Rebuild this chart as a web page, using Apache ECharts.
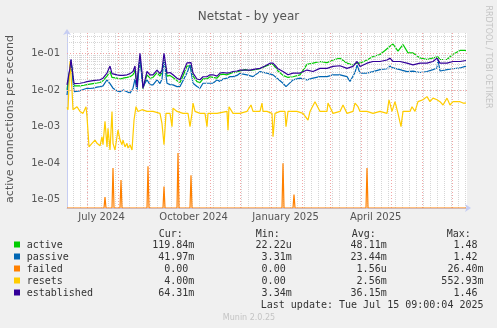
<!DOCTYPE html>
<html><head><meta charset="utf-8">
<script src="https://cdn.jsdelivr.net/npm/echarts@6/dist/echarts.min.js"></script>
<style>html,body{margin:0;padding:0;background:#f0f0f0;}#c{width:497px;height:328px;}</style>
</head><body><div id="c"></div>
<script>
// ---- time frame (x values are days since START) ----
const START = Date.UTC(2024, 5, 10, 9);   // 400 days before last update
const SPAN_DAYS = 400;
const xLabelDates = [[2024,6,15],[2024,9,15],[2025,0,15],[2025,3,15]];
const xLabelText = ['July 2024','October 2024','January 2025','April 2025'];
const monthStarts = [[2024,6,1],[2024,7,1],[2024,8,1],[2024,9,1],[2024,10,1],[2024,11,1],[2025,0,1],[2025,1,1],[2025,2,1],[2025,3,1],[2025,4,1],[2025,5,1],[2025,6,1]];
const firstWeek = [2024,5,17];
const yTickValues = [1e-5,1e-4,1e-3,1e-2,1e-1];
const yTickLabels = ['1e-05','1e-04','1e-03','1e-02','1e-01'];
const Y_MIN = 6e-6, Y_MAX = 0.36;

// ---- series data: [day, value] ----
const active = [[0,0.0101],[2,0.011],[3,0.04],[4,0.06],[6,0.06],[7,0.013],[9,0.0124],[13,0.013],[17,0.0135],[20,0.014],[23,0.0145],[26,0.015],[30,0.0155],[33,0.016],[36,0.018],[40,0.024],[43,0.032],[45,0.022],[50,0.021],[53,0.02],[56,0.021],[60,0.022],[63,0.023],[66,0.026],[68,0.035],[70,0.011],[71,0.025],[73,0.07],[75,0.025],[76,0.011],[80,0.026],[83,0.021],[86,0.022],[90,0.03],[93,0.024],[95,0.03],[97,0.07],[100,0.024],[103,0.025],[106,0.022],[110,0.018],[113,0.016],[116,0.024],[120,0.045],[124,0.046],[126,0.024],[130,0.017],[133,0.016],[136,0.02],[140,0.02],[143,0.023],[146,0.022],[150,0.021],[153,0.026],[156,0.027],[160,0.026],[163,0.028],[166,0.03],[170,0.031],[173,0.033],[178,0.036],[183,0.034],[188,0.036],[193,0.038],[198,0.044],[203,0.05],[206,0.05],[211,0.033],[216,0.025],[221,0.022],[226,0.023],[233,0.026],[240,0.05],[246,0.054],[253,0.06],[260,0.056],[266,0.066],[273,0.074],[280,0.054],[286,0.048],[290,0.055],[293,0.054],[300,0.066],[306,0.082],[313,0.093],[318,0.12],[323,0.157],[326,0.18],[331,0.115],[336,0.174],[341,0.103],[346,0.103],[353,0.075],[360,0.068],[366,0.075],[371,0.08],[373,0.068],[380,0.068],[386,0.095],[393,0.12],[399,0.12]];
const passive = [[0,0.0073],[2,0.008],[3,0.04],[4,0.066],[6,0.066],[7,0.009],[9,0.009],[13,0.0095],[17,0.0105],[20,0.0112],[23,0.011],[26,0.0112],[30,0.012],[33,0.0124],[36,0.013],[40,0.019],[43,0.015],[46,0.0112],[50,0.0095],[53,0.009],[56,0.0101],[60,0.009],[63,0.0082],[66,0.0112],[68,0.02],[70,0.009],[71,0.02],[73,0.082],[75,0.02],[76,0.0124],[80,0.019],[83,0.0138],[86,0.0138],[90,0.0189],[93,0.015],[95,0.02],[97,0.066],[100,0.0153],[103,0.014],[106,0.0138],[110,0.0124],[113,0.0124],[116,0.018],[120,0.029],[123,0.048],[126,0.0153],[130,0.0124],[133,0.0112],[136,0.0153],[140,0.0153],[143,0.0153],[146,0.0153],[150,0.0189],[153,0.017],[156,0.02],[160,0.021],[163,0.0232],[166,0.0232],[170,0.025],[173,0.0288],[176,0.027],[180,0.0259],[186,0.0232],[193,0.0318],[200,0.0288],[206,0.0259],[211,0.02],[216,0.0153],[219,0.0124],[221,0.013],[226,0.0189],[233,0.021],[240,0.0189],[246,0.021],[253,0.0232],[260,0.0232],[266,0.0259],[273,0.0259],[280,0.0232],[283,0.017],[288,0.03],[290,0.048],[293,0.0288],[300,0.0288],[306,0.0318],[313,0.036],[320,0.038],[323,0.045],[326,0.04],[333,0.036],[340,0.0318],[346,0.0326],[353,0.03],[360,0.032],[366,0.036],[370,0.04],[371,0.068],[373,0.033],[380,0.036],[386,0.038],[393,0.04],[399,0.045]];
const failed = [[0,0],[37,0],[38,1.2e-5],[39,0],[45,0],[46,7.4e-5],[47,0],[53,0],[54,3.5e-5],[55,0],[80,0],[81,8.3e-5],[82,0],[96,0],[97,2.3e-5],[98,0],[110,0],[111,1.9e-4],[112,0],[123,0],[124,4.7e-5],[125,0],[215,0],[216,1e-4],[217,0],[226,0],[227,1.4e-5],[228,0],[299,0],[300,7.4e-5],[301,0],[399,0]];
const resets = [[0,0.0034],[1,0.0029],[3,0.06],[5,0.01],[6,0.0029],[10,0.0035],[13,0.0026],[16,0.0023],[19,0.0035],[20,0.0019],[22,0.00028],[25,0.00035],[28,0.00043],[30,0.00035],[33,0.0003],[35,0.00053],[36,0.00032],[38,0.0014],[40,0.00028],[41,0.0009],[43,0.00023],[45,0.0026],[46,0.00035],[48,0.00023],[51,0.00081],[53,0.00043],[55,0.00032],[56,0.00043],[58,0.00028],[60,0.00035],[61,0.00026],[63,0.00032],[65,0.00023],[67,0.0015],[69,0.0035],[71,0.0026],[75,0.0029],[80,0.0026],[86,0.0026],[93,0.0023],[95,0.0012],[97,0.00032],[99,0.0023],[103,0.0023],[105,0.001],[106,0.0032],[110,0.0026],[116,0.0023],[121,0.0023],[123,0.001],[125,0.0023],[126,0.0044],[128,0.0026],[133,0.0023],[138,0.0023],[140,0.001],[141,0.0023],[150,0.0023],[160,0.0026],[161,0.0008],[162,0.0035],[166,0.0023],[173,0.0023],[180,0.0026],[184,0.0039],[186,0.0026],[193,0.0026],[195,0.0044],[196,0.0026],[200,0.0026],[205,0.0023],[206,0.00053],[208,0.0023],[213,0.0026],[218,0.0026],[219,0.001],[221,0.0026],[230,0.0026],[236,0.0023],[241,0.0015],[243,0.0026],[248,0.0048],[253,0.0026],[260,0.0026],[261,0.0044],[266,0.0023],[273,0.0026],[276,0.0039],[280,0.0023],[286,0.0026],[288,0.0044],[291,0.0035],[293,0.0026],[300,0.0026],[306,0.0023],[313,0.0026],[320,0.0023],[322,0.0054],[325,0.0026],[328,0.0048],[331,0.0023],[334,0.001],[336,0.0026],[343,0.0026],[345,0.0035],[348,0.0026],[351,0.0048],[356,0.0054],[360,0.0066],[363,0.0048],[366,0.006],[370,0.0054],[373,0.0048],[376,0.0039],[380,0.006],[383,0.0039],[386,0.0048],[393,0.0048],[396,0.0044],[399,0.0044]];
const established = [[0,0.0138],[2,0.014],[3,0.04],[4,0.069],[6,0.069],[7,0.015],[9,0.0153],[13,0.0153],[17,0.016],[20,0.017],[23,0.0175],[26,0.018],[30,0.0185],[33,0.019],[36,0.021],[40,0.029],[43,0.045],[45,0.028],[50,0.026],[53,0.025],[56,0.025],[60,0.026],[63,0.028],[66,0.032],[68,0.045],[70,0.012],[71,0.03],[73,0.1],[75,0.03],[76,0.011],[80,0.032],[83,0.026],[86,0.026],[90,0.035],[93,0.028],[95,0.035],[97,0.1],[100,0.029],[103,0.03],[106,0.026],[110,0.021],[113,0.019],[116,0.03],[120,0.055],[124,0.056],[126,0.029],[130,0.02],[133,0.019],[136,0.023],[140,0.023],[143,0.026],[146,0.026],[150,0.024],[153,0.029],[156,0.03],[160,0.029],[163,0.03],[166,0.032],[170,0.033],[173,0.035],[178,0.035],[183,0.035],[188,0.037],[193,0.039],[198,0.045],[203,0.054],[206,0.054],[211,0.038],[216,0.032],[221,0.026],[226,0.029],[233,0.029],[240,0.035],[246,0.032],[253,0.039],[260,0.039],[266,0.044],[273,0.046],[280,0.039],[286,0.044],[290,0.06],[293,0.044],[300,0.054],[306,0.06],[313,0.06],[320,0.066],[323,0.074],[326,0.06],[333,0.06],[340,0.054],[346,0.0485],[353,0.054],[360,0.054],[366,0.06],[370,0.074],[373,0.054],[380,0.054],[386,0.06],[393,0.06],[399,0.064]];

// ---- legend table ----
const legendNames = ['active','passive','failed','resets','established'];
const legendColors = ['#00cc00','#0066b3','#ff8000','#ffcc00','#330099'];
const curVals = ['119.84m','41.97m','0.00 ','4.00m','64.31m'];
const minVals = ['22.22u','3.31m','0.00 ','0.00 ','3.34m'];
const avgVals = ['48.11m','23.44m','1.56u','2.56m','36.15m'];
const maxVals = ['1.48 ','1.42 ','26.40m','552.93m','1.46 '];
const lastUpdate = 'Last update: Tue Jul 15 09:00:04 2025';

const dayOf = d => (Date.UTC(d[0], d[1], d[2]) - START) / 86400000;
const labelDays = xLabelDates.map(dayOf);
const monthDays = monthStarts.map(dayOf);
const weekDays = [];
for (let d = dayOf(firstWeek); d < SPAN_DAYS; d += 7) weekDays.push(d);
const minorY = [];
for (let e = -6; e <= -1; e++) for (let k = 2; k <= 9; k++) { const v = k * Math.pow(10, e); if (v > Y_MIN * 1.01 && v < Y_MAX) minorY.push(v); }

const gray = {color: '#d6d6d6', width: 1, type: [1, 1]};
const red = {color: '#f2a6a6', width: 1, type: [1, 2]};
const gridLines = []
  .concat(minorY.map(v => ({yAxis: v, lineStyle: gray})))
  .concat(weekDays.map(v => ({xAxis: v, lineStyle: gray})))
  .concat(yTickValues.map(v => ({yAxis: v, lineStyle: red})))
  .concat(monthDays.map(v => ({xAxis: v, lineStyle: red})));

const F = '"DejaVu Sans"';
const M = '"DejaVu Sans Mono"';
const seriesData = [active, passive, failed, resets, established];
const series = [{
  type: 'line', name: 'grid', data: [], silent: true, z: 1,
  markLine: {silent: true, symbol: 'none', animation: false, label: {show: false}, emphasis: {disabled: true}, data: gridLines}
}].concat(seriesData.map((d, i) => ({
  type: 'line', name: legendNames[i], z: 3 + i,
  data: d.map(p => [p[0], p[1] > 0 ? p[1] : Y_MIN]),
  showSymbol: false, symbol: 'none', clip: true,
  lineStyle: {color: legendColors[i], width: 1.2},
  itemStyle: {color: legendColors[i]},
  animation: false
})));

const graphic = [
  {type: 'text', x: 10, y: 119, rotation: Math.PI / 2, style: {text: 'active connections per second', fill: '#555', font: '11px ' + F, align: 'center', verticalAlign: 'middle'}},
  {type: 'text', x: 488, y: 57, rotation: -Math.PI / 2, style: {text: 'RRDTOOL / TOBI OETIKER', fill: '#c4c4c4', font: '8px ' + F, align: 'center', verticalAlign: 'middle'}},
  {type: 'text', x: 158.7, y: 234, style: {text: 'Cur:', fill: '#333', font: '10px ' + M, align: 'left', verticalAlign: 'middle'}},
  {type: 'text', x: 255.7, y: 234, style: {text: 'Min:', fill: '#333', font: '10px ' + M, align: 'left', verticalAlign: 'middle'}},
  {type: 'text', x: 351.7, y: 234, style: {text: 'Avg:', fill: '#333', font: '10px ' + M, align: 'left', verticalAlign: 'middle'}},
  {type: 'text', x: 446.7, y: 234, style: {text: 'Max:', fill: '#333', font: '10px ' + M, align: 'left', verticalAlign: 'middle'}},
  {type: 'text', x: 483.5, y: 305.7, style: {text: lastUpdate, fill: '#333', font: '10px ' + M, align: 'right', verticalAlign: 'middle'}},
  {type: 'text', x: 249, y: 317.5, style: {text: 'Munin 2.0.25', fill: '#c4c4c4', font: '8px ' + F, align: 'center', verticalAlign: 'middle'}}
];
legendNames.forEach((n, i) => {
  const y = 245.5 + 12 * i;
  graphic.push({type: 'rect', shape: {x: 14, y: y - 4, width: 6, height: 6}, style: {fill: legendColors[i]}});
  graphic.push({type: 'text', x: 26.7, y: y, style: {text: n, fill: '#333', font: '10px ' + M, align: 'left', verticalAlign: 'middle'}});
  [[curVals, 194.3], [minVals, 291.7], [avgVals, 386.7], [maxVals, 483.5]].forEach(([arr, xr]) => {
    graphic.push({type: 'text', x: xr, y: y, style: {text: arr[i], fill: '#333', font: '10px ' + M, align: 'right', verticalAlign: 'middle'}});
  });
});

const chart = echarts.init(document.getElementById('c'), null, {renderer: 'canvas'});
chart.setOption({
  backgroundColor: '#f0f0f0',
  animation: false,
  title: {text: 'Netstat - by year', left: 'center', top: 6, textStyle: {fontSize: 12, fontWeight: 'normal', color: '#555', fontFamily: 'DejaVu Sans'}},
  grid: {left: 67, right: 30, top: 33, bottom: 120, show: true, backgroundColor: '#ffffff', borderWidth: 0},
  xAxis: {
    type: 'value', min: 0, max: SPAN_DAYS,
    splitLine: {show: false},
    axisTick: {show: false},
    axisLine: {show: true, lineStyle: {color: '#c6cdf2', width: 1}, symbol: ['none', 'arrow'], symbolSize: [6, 6], symbolOffset: [0, 4]},
    axisLabel: {customValues: labelDays, formatter: v => { const i = labelDays.findIndex(d => Math.abs(d - v) < 1e-6); return i >= 0 ? xLabelText[i] : ''; }, color: '#555', fontSize: 10, fontFamily: 'DejaVu Sans', margin: 4}
  },
  yAxis: {
    type: 'log', logBase: 10, min: Y_MIN, max: Y_MAX,
    splitLine: {show: false}, minorSplitLine: {show: false},
    axisTick: {show: false},
    axisLine: {show: true, lineStyle: {color: '#c6cdf2', width: 1}, symbol: ['none', 'arrow'], symbolSize: [6, 6], symbolOffset: [0, 4]},
    axisLabel: {showMinLabel: false, showMaxLabel: false, color: '#555', fontSize: 10, fontFamily: 'DejaVu Sans', margin: 7,
      formatter: v => { const i = yTickValues.findIndex(t => Math.abs(Math.log10(t) - Math.log10(v)) < 1e-6); return i >= 0 ? yTickLabels[i] : ''; }}
  },
  graphic: graphic,
  series: series
});
</script></body></html>
